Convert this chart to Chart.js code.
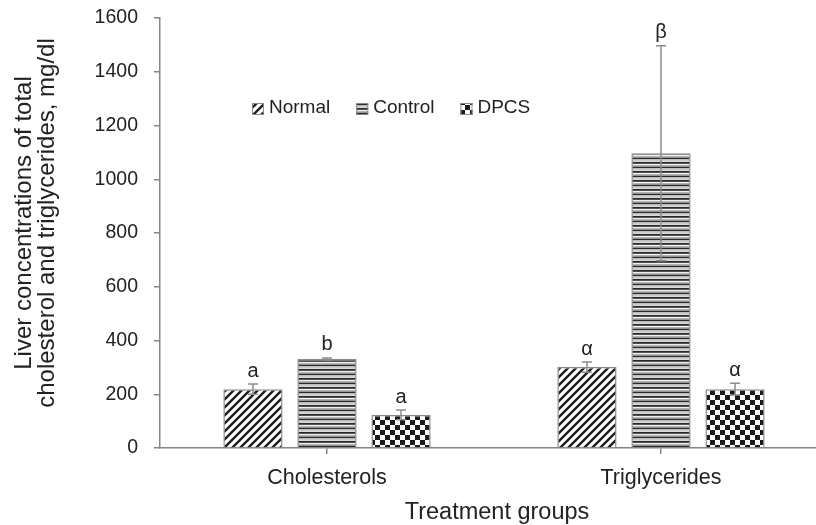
<!DOCTYPE html>
<html>
<head>
<meta charset="utf-8">
<script src="https://cdn.jsdelivr.net/npm/chart.js@4/dist/chart.umd.min.js"></script>
<style>
  html, body { margin: 0; padding: 0; background: #fff; overflow: hidden; }
  #wrap { width: 828px; height: 525px; }
</style>
</head>
<body>
<div id="wrap"><canvas id="myChart" width="828" height="525"></canvas></div>
<script>
const categories = ['Cholesterols', 'Triglycerides'];
const seriesNames = ['Normal', 'Control', 'DPCS'];

const normalValues = [219, 301];
const normalErrors = [19, 19];
const controlValues = [331, 1097];
const controlErrors = [4, 400];
const dpcsValues = [123, 219];
const dpcsErrors = [18, 22];

// significance letters above each bar
const normalLetters = ['a', 'α'];
const controlLetters = ['b', 'β'];
const dpcsLetters = ['a', 'α'];

const yTicks = [0, 200, 400, 600, 800, 1000, 1200, 1400, 1600];

const FONT = "'Liberation Sans', Arial, sans-serif";
const AXIS_COLOR = '#868686';

function makeTile(w, h, draw){
    const c = document.createElement('canvas');
    c.width = w; c.height = h;
    const g = c.getContext('2d');
    g.fillStyle = '#fff';
    g.fillRect(0, 0, w, h);
    draw(g);
    return document.getElementById('myChart').getContext('2d').createPattern(c, 'repeat');
}

// diagonal hatch "/"
const diagPattern = makeTile(8, 8, g => {
    g.strokeStyle = '#1e1e1e';
    g.lineWidth = 2.4;
    g.beginPath();
    g.moveTo(-2, 10); g.lineTo(10, -2);
    g.moveTo(-6, 6); g.lineTo(6, -6);
    g.moveTo(2, 14); g.lineTo(14, 2);
    g.stroke();
});

// horizontal stripes
const stripePattern = makeTile(9, 9, g => {
    g.fillStyle = '#2a2a2a';
    g.fillRect(0, 0, 9, 1.8);
    g.fillRect(0, 4.5, 9, 1.8);
    g.fillStyle = '#b4b4b4';
    g.fillRect(0, 2.8, 9, 1.2);
    g.fillRect(0, 7.3, 9, 1.2);
});

// checkerboard
const checkPattern = makeTile(10, 10, g => {
    g.fillStyle = '#1a1a1a';
    g.fillRect(0, 0, 5, 5);
    g.fillRect(5, 5, 5, 5);
});

const datasets = [
    { label: seriesNames[0], data: normalValues, errors: normalErrors, letters: normalLetters, backgroundColor: diagPattern },
    { label: seriesNames[1], data: controlValues, errors: controlErrors, letters: controlLetters, backgroundColor: stripePattern },
    { label: seriesNames[2], data: dpcsValues, errors: dpcsErrors, letters: dpcsLetters, backgroundColor: checkPattern }
].map(ds => Object.assign(ds, {
    borderColor: '#8a8a8a',
    borderWidth: 1.5,
    categoryPercentage: 0.665,
    barPercentage: 0.8
}));

// error bars + letters
const errorBarPlugin = {
    id: 'errorBars',
    afterDatasetsDraw(chart){
        const ctx = chart.ctx;
        const y = chart.scales.y;
        ctx.save();
        chart.data.datasets.forEach((ds, di) => {
            const meta = chart.getDatasetMeta(di);
            meta.data.forEach((bar, i) => {
                const v = ds.data[i], e = ds.errors[i];
                const top = y.getPixelForValue(v + e);
                const bot = y.getPixelForValue(v - e);
                ctx.strokeStyle = '#8c8c8c';
                ctx.lineWidth = 1.5;
                ctx.beginPath();
                ctx.moveTo(bar.x, top); ctx.lineTo(bar.x, bot);
                ctx.moveTo(bar.x - 5, top); ctx.lineTo(bar.x + 5, top);
                ctx.moveTo(bar.x - 5, bot); ctx.lineTo(bar.x + 5, bot);
                ctx.stroke();
                ctx.fillStyle = '#222';
                ctx.font = '20px ' + FONT;
                ctx.textAlign = 'center';
                ctx.textBaseline = 'middle';
                ctx.fillText(ds.letters[i], bar.x, top - 13);
            });
        });
        ctx.restore();
    }
};

// legend inside plot, axis titles
const annotPlugin = {
    id: 'annot',
    afterDraw(chart){
        const ctx = chart.ctx;
        ctx.save();
        ctx.font = '19px ' + FONT;
        ctx.textBaseline = 'alphabetic';
        ctx.textAlign = 'left';
        let x = 252;
        chart.data.datasets.forEach(ds => {
            ctx.fillStyle = ds.backgroundColor;
            ctx.fillRect(x, 103, 12, 12);
            ctx.strokeStyle = '#8a8a8a';
            ctx.lineWidth = 1;
            ctx.strokeRect(x + 0.5, 103.5, 11, 11);
            ctx.fillStyle = '#222';
            ctx.fillText(ds.label, x + 17, 113);
            x += 17 + ctx.measureText(ds.label).width + 26;
        });

        ctx.fillStyle = '#222';
        ctx.textAlign = 'center';
        ctx.font = '23.5px ' + FONT;
        ctx.fillText('Treatment groups', 497, 519);

        ctx.font = '24px ' + FONT;
        ctx.translate(0, 223);
        ctx.rotate(-Math.PI / 2);
        ctx.fillText('Liver concentrations of total', 0, 31);
        ctx.fillText('cholesterol and triglycerides, mg/dl', 0, 54);
        ctx.restore();
    }
};

new Chart(document.getElementById('myChart'), {
    type: 'bar',
    data: { labels: categories, datasets: datasets },
    options: {
        responsive: false,
        animation: false,
        devicePixelRatio: 1,
        layout: { padding: { top: 18, right: 0, left: 0, bottom: 0 } },
        plugins: { legend: { display: false }, tooltip: { enabled: false } },
        scales: {
            x: {
                afterFit: s => { s.height = 77; s.paddingLeft = 0; s.paddingRight = 0; },
                border: { color: AXIS_COLOR, width: 1.5 },
                grid: { drawOnChartArea: false, offset: false, tickLength: 6, color: AXIS_COLOR, lineWidth: 1.5 },
                ticks: { color: '#222', font: { size: 21.5, family: FONT }, padding: 11 }
            },
            y: {
                min: 0,
                max: 1600,
                afterFit: s => { s.width = 160; s.paddingTop = 0; s.paddingBottom = 0; },
                afterBuildTicks: s => { s.ticks = yTicks.map(v => ({ value: v })); },
                border: { color: AXIS_COLOR, width: 1.5 },
                grid: { drawOnChartArea: false, tickLength: 6, color: AXIS_COLOR, lineWidth: 1.5 },
                ticks: { color: '#222', font: { size: 19.5, family: FONT }, padding: 16, callback: v => String(v) }
            }
        }
    },
    plugins: [errorBarPlugin, annotPlugin]
});
</script>
</body>
</html>
